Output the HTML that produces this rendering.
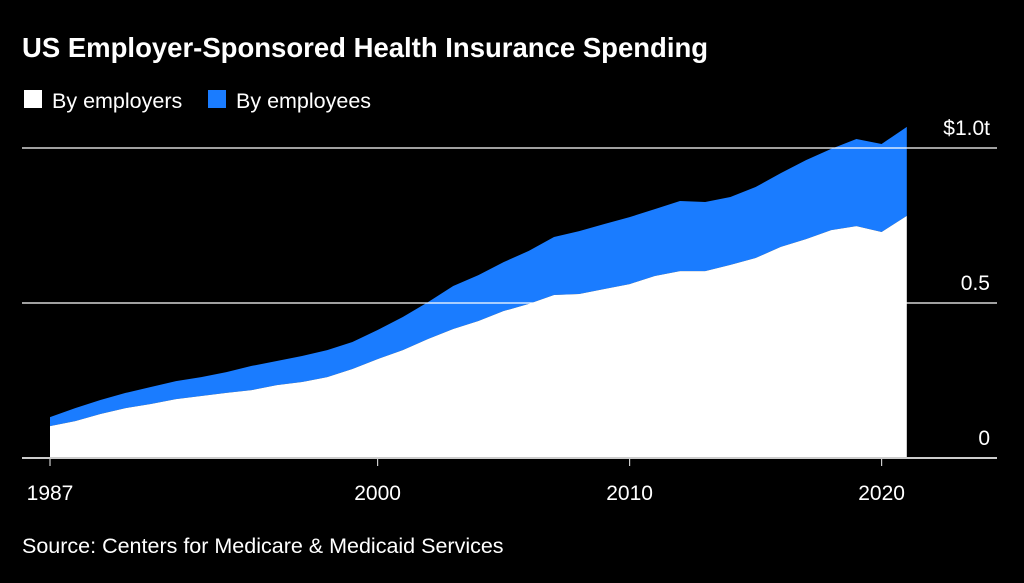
<!DOCTYPE html>
<html><head><meta charset="utf-8"><style>
body{margin:0;background:#000;width:1024px;height:578px;overflow:hidden;font-family:"Liberation Sans",sans-serif;color:#fff}
</style></head><body>
<svg width="1024" height="578">
<text x="22" y="57" font-size="27.5" font-weight="bold" fill="#fff">US Employer-Sponsored Health Insurance Spending</text>
<g>
<rect x="24" y="90" width="18" height="18" fill="#fff"/>
<text x="52" y="108" font-size="21.5" fill="#fff">By employers</text>
<rect x="208" y="90" width="18" height="18" fill="#1a7cff"/>
<text x="236" y="108" font-size="21.5" fill="#fff">By employees</text>
</g>
<g id="plot"></g>
<text x="22" y="553" font-size="21.5" fill="#fff">Source: Centers for Medicare &amp; Medicaid Services</text>
</svg>
<script>
const years=[];for(let y=1987;y<=2021;y++)years.push(y);
const employers=[0.103,0.119,0.142,0.161,0.174,0.19,0.2,0.21,0.219,0.235,0.245,0.261,0.287,0.319,0.348,0.384,0.416,0.442,0.474,0.497,0.526,0.529,0.545,0.561,0.587,0.603,0.603,0.623,0.645,0.681,0.706,0.735,0.748,0.729,0.781];
const employees=[0.029,0.042,0.045,0.049,0.055,0.058,0.061,0.067,0.078,0.078,0.084,0.087,0.087,0.094,0.107,0.119,0.139,0.148,0.158,0.171,0.187,0.203,0.21,0.216,0.216,0.226,0.223,0.219,0.229,0.238,0.255,0.262,0.281,0.284,0.287];
const yTicks=[0,0.5,1.0];
const yTickLabels=["0","0.5","$1.0t"];
const xTicks=[1987,2000,2010,2020];
const NS="http://www.w3.org/2000/svg";
const X=v=>50+(v-1987)*25.2;
const Y=v=>458-v*310;
const plotG=document.getElementById('plot');
function mk(t,a){const e=document.createElementNS(NS,t);for(const k in a)e.setAttribute(k,a[k]);plotG.appendChild(e);return e;}
const totals=employers.map((v,i)=>v+employees[i]);
const topPts=years.map((y,i)=>X(y)+','+Y(totals[i])).join(' ');
const midPts=years.map((y,i)=>X(y)+','+Y(employers[i]));
const a1=mk('polygon',{points:topPts+' '+midPts.slice().reverse().join(' '),fill:'#1a7cff'});


const a2=mk('polygon',{points:midPts.join(' ')+' '+X(2021)+','+Y(0)+' '+X(1987)+','+Y(0),fill:'#fff'});


yTicks.forEach((t,i)=>{
  if(t>0){const l=mk('line',{x1:22,x2:997,y1:Y(t),y2:Y(t),stroke:'#fff','stroke-width':1.2});
  
  }
  const tx=mk('text',{x:990,y:Y(t)-13,'font-size':21,fill:'#fff','text-anchor':'end'});tx.textContent=yTickLabels[i];
  
  
});
const base=mk('line',{x1:22,x2:997,y1:Y(0),y2:Y(0),stroke:'#ccc','stroke-width':2});


xTicks.forEach(t=>{
  const l=mk('line',{x1:X(t),x2:X(t),y1:Y(0),y2:Y(0)+8,stroke:'#ccc','stroke-width':1.2});
  
  
  const tx=mk('text',{x:X(t),y:Y(0)+42,'font-size':21,fill:'#fff','text-anchor':'middle'});tx.textContent=t;
  
  
});
</script>
</body></html>
